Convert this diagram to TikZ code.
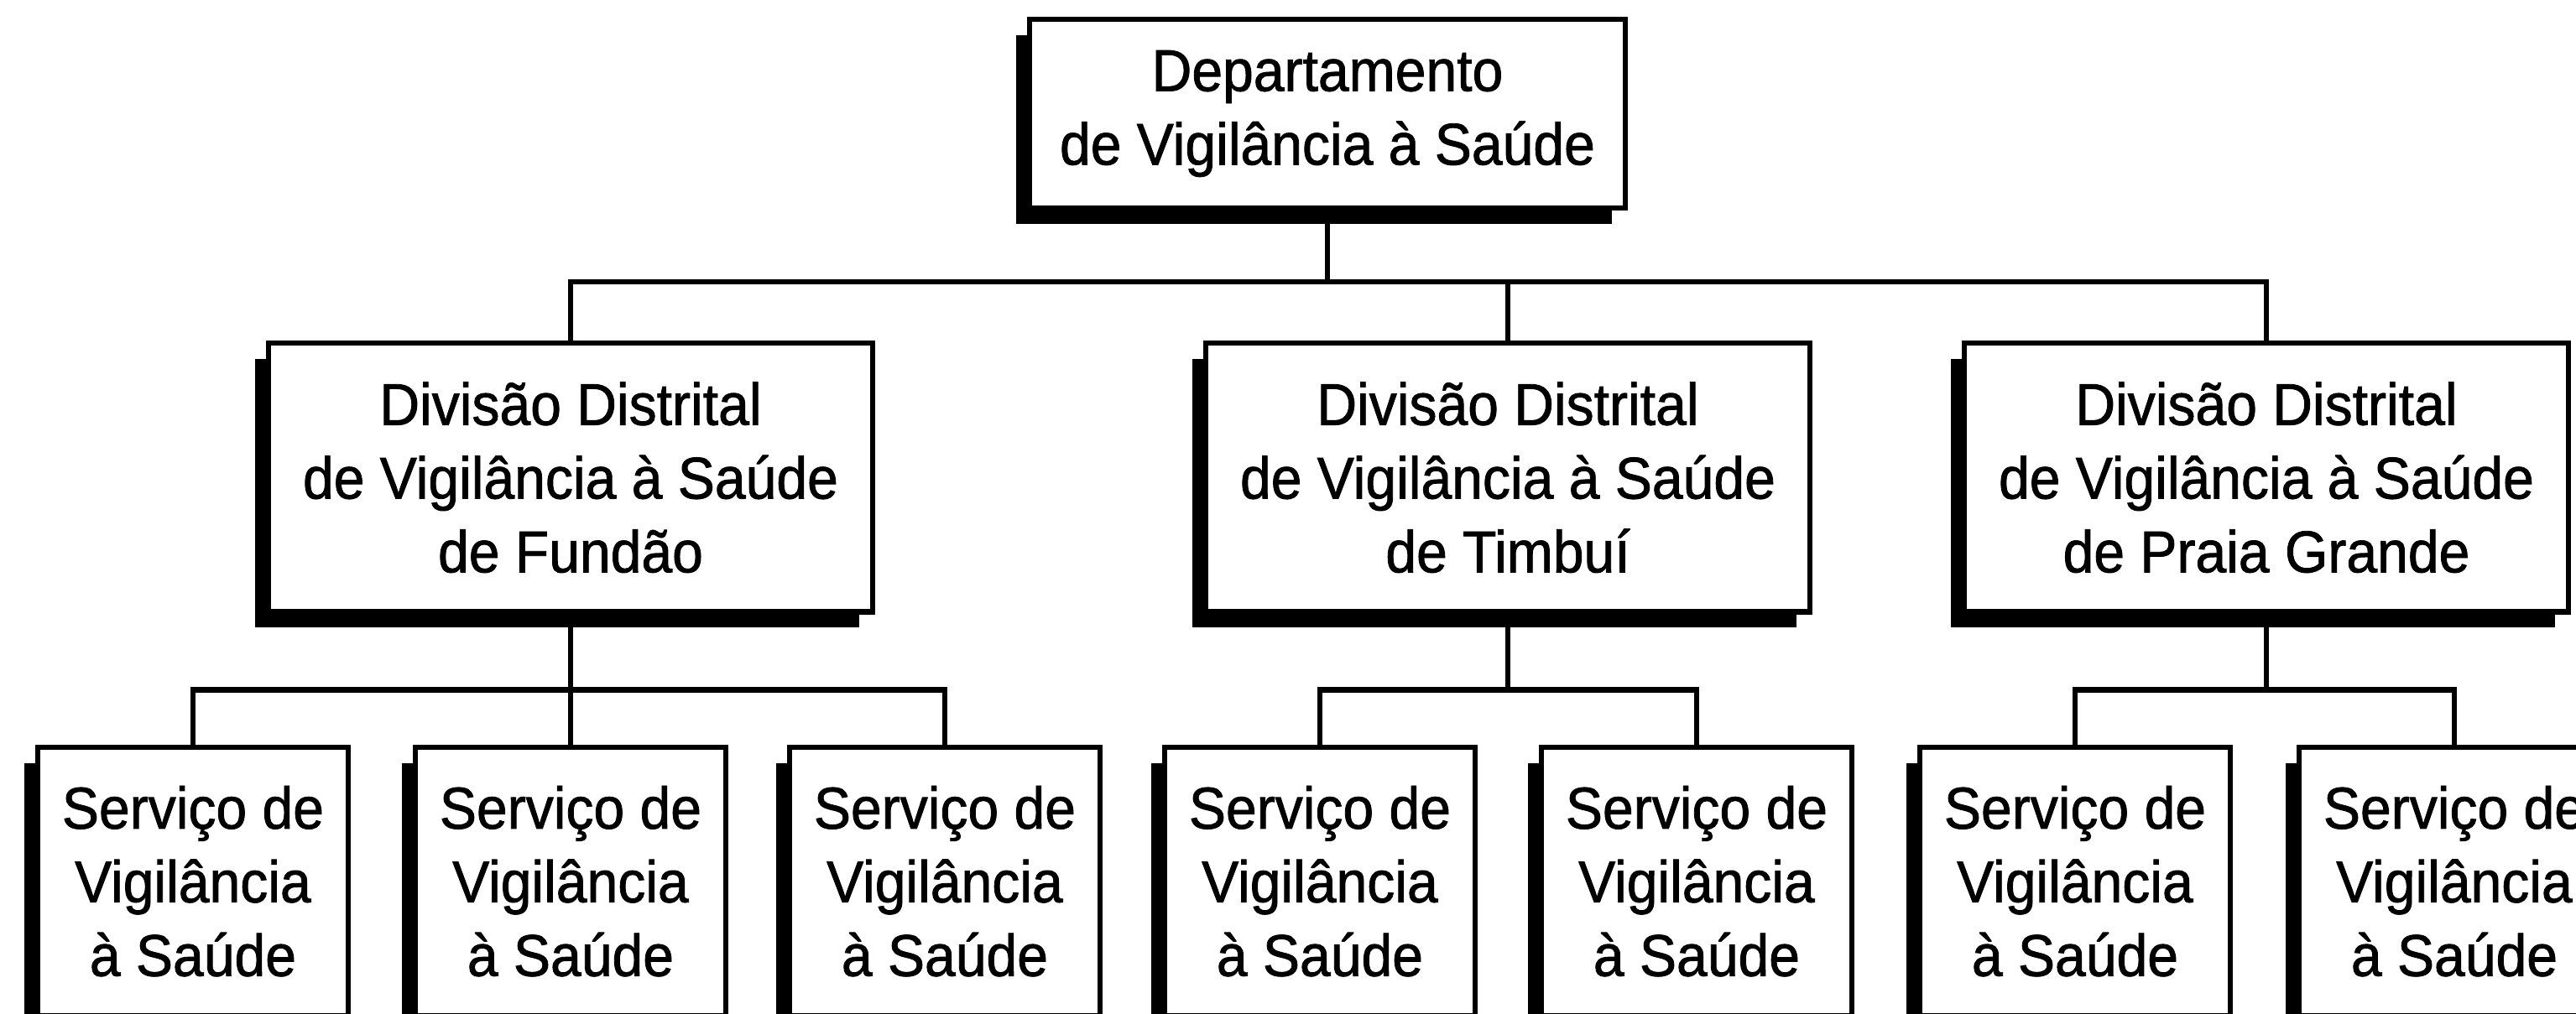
\documentclass[tikz,border=0pt]{standalone}
\usepackage{fontspec}
\setmainfont[FakeStretch=0.94,FakeBold=1.2]{Liberation Sans}
\usetikzlibrary{positioning,shadows}

\tikzset{
  unit/.style={draw, line width=1.8pt, fill=white, align=center, inner sep=0pt,
    font=\fontsize{20}{25}\selectfont,
    drop shadow={shadow xshift=-1.6mm, shadow yshift=-1.9mm, fill=black, opacity=1}},
  dept/.style={unit, minimum width=7.1cm, minimum height=2.25cm},
  division/.style={unit, minimum width=7.2cm, minimum height=3.2cm},
  service/.style={unit, minimum width=3.7cm, minimum height=3.2cm},
  link/.style={line width=1.8pt}
}

\begin{document}
\begin{tikzpicture}

  \useasboundingbox (0,0) rectangle (30.70,-12.09);
  \clip (0,0) rectangle (30.70,-12.09);

  % Define nodes
  \node[dept] (dep) at (15.82,-1.355) {Departamento\\de Vigilância à Saúde};

  \node[division, below=1.55cm of dep, xshift=-9.02cm] (fundao) {Divisão Distrital\\de Vigilância à Saúde\\de Fundão};
  \node[division, below=1.55cm of dep, xshift=2.15cm]  (timbui) {Divisão Distrital\\de Vigilância à Saúde\\de Timbuí};
  \node[division, below=1.55cm of dep, xshift=11.19cm] (praia)  {Divisão Distrital\\de Vigilância à Saúde\\de Praia Grande};

  \node[service, below=1.55cm of fundao, xshift=-4.5cm]  (fa) {Serviço de\\Vigilância\\à Saúde};
  \node[service, below=1.55cm of fundao]                 (fb) {Serviço de\\Vigilância\\à Saúde};
  \node[service, below=1.55cm of fundao, xshift=4.46cm]  (fc) {Serviço de\\Vigilância\\à Saúde};
  \node[service, below=1.55cm of timbui, xshift=-2.24cm] (ta) {Serviço de\\Vigilância\\à Saúde};
  \node[service, below=1.55cm of timbui, xshift=2.25cm]  (tb) {Serviço de\\Vigilância\\à Saúde};
  \node[service, below=1.55cm of praia, xshift=-2.28cm]  (pa) {Serviço de\\Vigilância\\à Saúde};
  \node[service, below=1.55cm of praia, xshift=2.24cm]   (pb) {Serviço de\\Vigilância\\à Saúde};

  % Connect the nodes
  \draw[link] (dep.south) -- ++(0,-0.85) coordinate (bus);
  \draw[link] (fundao.north) |- (bus) -| (praia.north);
  \draw[link] (timbui.north) -- (timbui.north |- bus);

  \draw[link] (fundao.south) -- ++(0,-0.9) coordinate (fbus);
  \draw[link] (fa.north) |- (fbus) -| (fc.north);
  \draw[link] (fb.north) -- (fb.north |- fbus);

  \draw[link] (timbui.south) -- ++(0,-0.9) coordinate (tbus);
  \draw[link] (ta.north) |- (tbus) -| (tb.north);

  \draw[link] (praia.south) -- ++(0,-0.9) coordinate (pbus);
  \draw[link] (pa.north) |- (pbus) -| (pb.north);

\end{tikzpicture}
\end{document}
